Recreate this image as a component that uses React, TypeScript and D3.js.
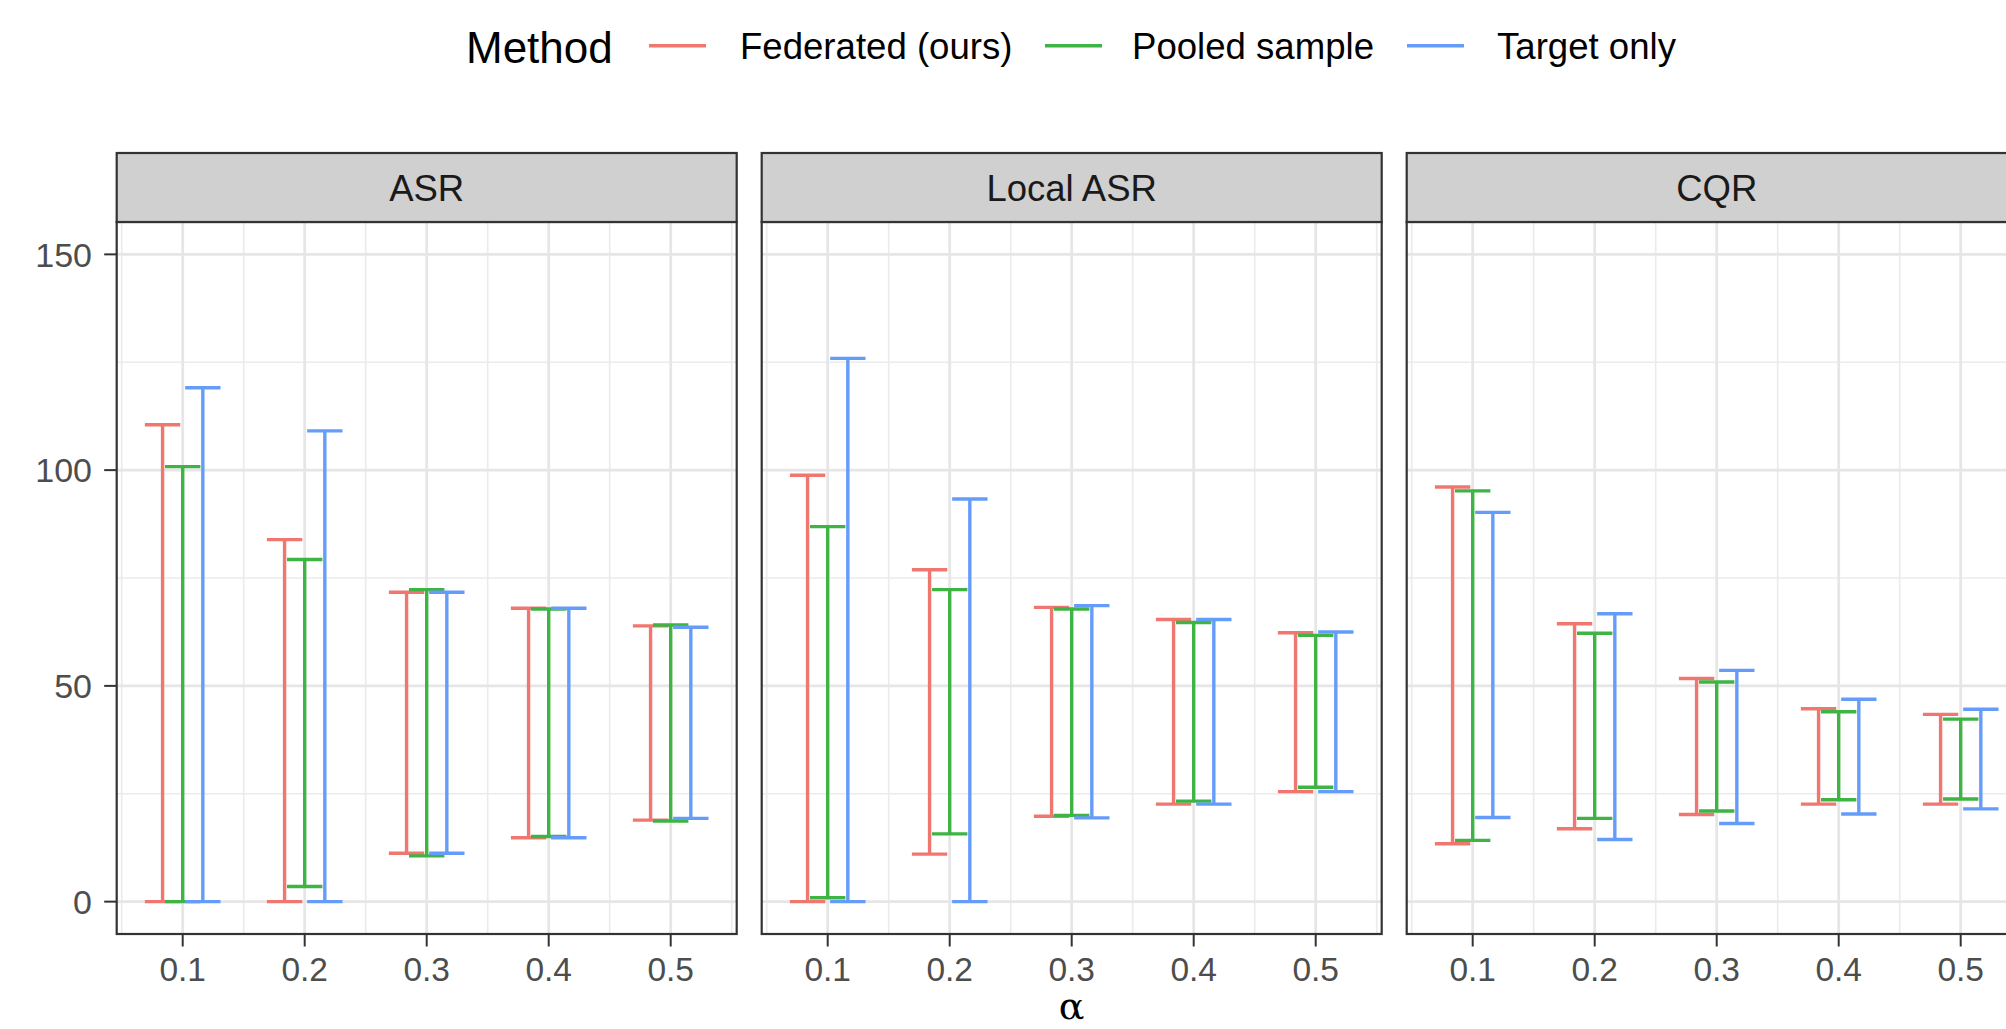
import React from "react";
import * as d3 from "d3";

// ---------- data ----------
const panels = ["ASR", "Local ASR", "CQR"];
const methods = ["Federated (ours)", "Pooled sample", "Target only"];
const alphas = [0.1, 0.2, 0.3, 0.4, 0.5];
const yTicks = [0, 50, 100, 150];
const yMinor = [25, 75, 125];

// ASR
const asrFedLo = [0, 0, 11.2, 14.8, 18.9];
const asrFedHi = [110.5, 83.9, 71.7, 68.0, 63.9];
const asrPoolLo = [0, 3.5, 10.6, 15.1, 18.7];
const asrPoolHi = [100.8, 79.3, 72.3, 67.8, 64.1];
const asrTgtLo = [0, 0, 11.2, 14.8, 19.3];
const asrTgtHi = [119.1, 109.1, 71.7, 68.0, 63.6];

// Local ASR
const locFedLo = [0, 11.0, 19.8, 22.6, 25.5];
const locFedHi = [98.8, 76.9, 68.2, 65.4, 62.3];
const locPoolLo = [0.9, 15.7, 20.0, 23.3, 26.5];
const locPoolHi = [86.9, 72.3, 67.8, 64.7, 61.7];
const locTgtLo = [0, 0, 19.4, 22.6, 25.5];
const locTgtHi = [125.9, 93.3, 68.6, 65.4, 62.5];

// CQR
const cqrFedLo = [13.4, 16.9, 20.2, 22.6, 22.6];
const cqrFedHi = [96.1, 64.4, 51.7, 44.7, 43.4];
const cqrPoolLo = [14.2, 19.3, 21.0, 23.6, 23.8];
const cqrPoolHi = [95.2, 62.2, 50.9, 44.0, 42.3];
const cqrTgtLo = [19.5, 14.4, 18.1, 20.3, 21.5];
const cqrTgtHi = [90.2, 66.7, 53.6, 46.9, 44.6];

const seriesByPanel = [
  [[asrFedLo, asrFedHi], [asrPoolLo, asrPoolHi], [asrTgtLo, asrTgtHi]],
  [[locFedLo, locFedHi], [locPoolLo, locPoolHi], [locTgtLo, locTgtHi]],
  [[cqrFedLo, cqrFedHi], [cqrPoolLo, cqrPoolHi], [cqrTgtLo, cqrTgtHi]],
];

const colors = ["#F07770", "#3DB443", "#659CFA"];

// ---------- layout ----------
const W = 2006, H = 1029;
const panelLeft0 = 116.7;
const panelW = 620;
const panelGap = 25;
const stripTop = 153;
const panelTop = 222;
const panelBottom = 934;
const dodge = 0.0165;
const capHalf = 0.0145;
const yDataMax = 150; // shared facet scale (includes a panel beyond the crop)

const FONT = "'Liberation Sans', Arial, Helvetica, sans-serif";

export default function App() {
  const yExp = (yDataMax - 0) * 0.05;
  const y = d3.scaleLinear().domain([0 - yExp, yDataMax + yExp]).range([panelBottom, panelTop]);

  const xMinData = d3.min(alphas)! - dodge - capHalf;
  const xMaxData = d3.max(alphas)! + dodge + capHalf;
  const xExp = (xMaxData - xMinData) * 0.05;
  const xDomain: [number, number] = [xMinData - xExp, xMaxData + xExp];
  const xMinor = [0.05, 0.15, 0.25, 0.35, 0.45, 0.55].filter(v => v >= xDomain[0] && v <= xDomain[1]);

  const totalRight = panelLeft0 + 3 * panelW + 2 * panelGap;
  const centerAll = (panelLeft0 + totalRight) / 2;

  const legendItems = [
    { keyX: 649, textX: 740 },
    { keyX: 1045, textX: 1132 },
    { keyX: 1407, textX: 1497 },
  ];

  return (
    <svg width={W} height={H} style={{ position: "absolute", left: 0, top: 0, background: "#fff" }} fontFamily={FONT}>
      <rect x={0} y={0} width={W} height={H} fill="#fff" />
      {/* legend */}
      <g>
        <text x={466} y={63} fontSize={44} fill="#000">Method</text>
        {methods.map((m, i) => (
          <g key={m}>
            <line x1={legendItems[i].keyX} x2={legendItems[i].keyX + 57} y1={45.7} y2={45.7} stroke={colors[i]} strokeWidth={3.5} />
            <text x={legendItems[i].textX} y={58.5} fontSize={36.6} fill="#000">{m}</text>
          </g>
        ))}
      </g>

      {/* y axis */}
      <g>
        {yTicks.map(t => (
          <g key={t}>
            <line x1={panelLeft0 - 12.5} x2={panelLeft0} y1={y(t)} y2={y(t)} stroke="#333" strokeWidth={2} />
            <text x={92} y={y(t)} dy="0.36em" textAnchor="end" fontSize={34} fill="#4D4D4D">{t}</text>
          </g>
        ))}
      </g>

      {panels.map((p, pi) => {
        const left = panelLeft0 + pi * (panelW + panelGap);
        const x = d3.scaleLinear().domain(xDomain).range([left, left + panelW]);
        const series = seriesByPanel[pi];
        return (
          <g key={p}>
            <rect x={left} y={panelTop} width={panelW} height={panelBottom - panelTop} fill="#fff" />
            {yMinor.map(v => (
              <line key={"ym" + v} x1={left} x2={left + panelW} y1={y(v)} y2={y(v)} stroke="#EBEBEB" strokeWidth={1.6} />
            ))}
            {xMinor.map(v => (
              <line key={"xm" + v} x1={x(v)} x2={x(v)} y1={panelTop} y2={panelBottom} stroke="#EBEBEB" strokeWidth={1.6} />
            ))}
            {yTicks.map(v => (
              <line key={"yM" + v} x1={left} x2={left + panelW} y1={y(v)} y2={y(v)} stroke="#E6E6E6" strokeWidth={2.8} />
            ))}
            {alphas.map(v => (
              <line key={"xM" + v} x1={x(v)} x2={x(v)} y1={panelTop} y2={panelBottom} stroke="#E6E6E6" strokeWidth={2.8} />
            ))}
            {series.map(([lo, hi], mi) => {
              const off = (mi - 1) * dodge;
              return (
                <g key={mi} stroke={colors[mi]} strokeWidth={3.4} fill="none">
                  {alphas.map((a, ai) => {
                    const cx = x(a + off);
                    const x0 = x(a + off - capHalf);
                    const x1 = x(a + off + capHalf);
                    const yl = y(lo[ai]);
                    const yh = y(hi[ai]);
                    return (
                      <g key={ai}>
                        <line x1={x0} x2={x1} y1={yh} y2={yh} />
                        <line x1={cx} x2={cx} y1={yh} y2={yl} />
                        <line x1={x0} x2={x1} y1={yl} y2={yl} />
                      </g>
                    );
                  })}
                </g>
              );
            })}
            <rect x={left} y={panelTop} width={panelW} height={panelBottom - panelTop} fill="none" stroke="#333" strokeWidth={2.2} />
            {/* strip */}
            <rect x={left} y={stripTop} width={panelW} height={panelTop - stripTop} fill="#D0D0D0" stroke="#333" strokeWidth={2.2} />
            <text x={left + panelW / 2} y={(stripTop + panelTop) / 2} dy="0.36em" textAnchor="middle" fontSize={36.5} fill="#1A1A1A">{p}</text>
            {/* x axis */}
            {alphas.map(v => (
              <g key={"xt" + v}>
                <line x1={x(v)} x2={x(v)} y1={panelBottom} y2={panelBottom + 12.5} stroke="#333" strokeWidth={2} />
                <text x={x(v)} y={981} textAnchor="middle" fontSize={33.5} fill="#4D4D4D">{d3.format(".1f")(v)}</text>
              </g>
            ))}
          </g>
        );
      })}

      <text x={centerAll} y={1019} textAnchor="middle" fontSize={38} fontFamily="'DejaVu Serif', 'Liberation Serif', serif" fill="#000">α</text>
    </svg>
  );
}
